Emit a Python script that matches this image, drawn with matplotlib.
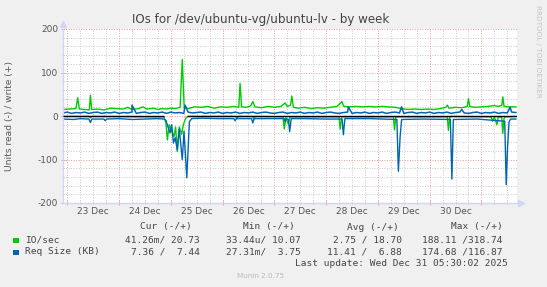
import matplotlib
matplotlib.use("Agg")
import matplotlib.pyplot as plt
import matplotlib.transforms as mtransforms
from matplotlib.patches import Rectangle
import numpy as np

# time axis in hours from 23 Dec 00:00
day_labels = ["23 Dec", "24 Dec", "25 Dec", "26 Dec", "27 Dec", "28 Dec", "29 Dec", "30 Dec"]

# IO/sec write (+)
io_w = [(-1.5, 15), (1, 16), (4, 17), (4.8, 42), (5.6, 16), (8, 15), (10.2, 14), (10.7, 48), (11.3, 15),
        (14, 16), (17, 14), (20, 18), (23, 17), (26, 16), (28, 20), (30, 15), (33, 17), (35, 21), (37, 16),
        (40, 18), (42, 15), (44, 17), (46, 16), (48, 18), (50, 17), (52.3, 20), (53.3, 130), (54.2, 18),
        (56, 17), (59, 21), (62, 20), (65, 22), (68, 18), (71, 21), (74, 20), (77, 22), (79.5, 20), (80.1, 75),
        (80.8, 21), (83, 20), (85, 23), (86, 33), (87, 21), (90, 19), (93, 22), (96, 20), (99, 22), (101, 30),
        (102, 22), (103.5, 25), (104.1, 46), (104.8, 20), (107, 18), (110, 20), (113, 17), (116, 19), (119, 18),
        (122, 20), (125, 22), (127.3, 33), (128.2, 22), (131, 21), (134, 22), (137, 21), (140, 22), (143, 21),
        (146, 22), (149, 21), (152, 20), (155, 17), (158, 15), (161, 16), (164, 15), (167, 16), (170, 15),
        (173, 17), (175.5, 20), (176.2, 25), (177, 18), (180, 20), (183, 19), (185.4, 22), (186, 40),
        (186.6, 22), (189, 20), (192, 21), (195, 22), (198, 24), (200, 22), (201.5, 25), (201.9, 44),
        (202.5, 22), (205, 21), (208, 21)]

# IO/sec read (-)
io_r = [(-2, -1), (10, -1), (10.7, -4), (11.4, -1), (44.8, -2), (45.7, -15), (46.4, -55), (47.2, -20),
        (48.4, -35), (49.5, -47), (50.2, -25), (51.0, -82), (51.9, -25), (53.0, -42), (53.8, -20), (55.0, -4),
        (56, -1), (78, -1), (78.6, -6), (79.2, -1), (86, -1), (86.5, -8), (87, -1), (100.0, -2), (100.6, -30),
        (101.3, -4), (102.5, -18), (103.2, -2), (126.0, -2), (126.5, -30), (127.2, -2), (151.2, -2),
        (151.7, -32), (152.3, -2), (176.2, -2), (176.7, -33), (177.3, -4), (178, -1), (196.5, -2),
        (197.2, -12), (198, -2), (199.2, -20), (199.8, -2), (201.4, -3), (201.9, -40), (202.5, -5),
        (203, -2), (208, -1)]

# Req Size write (+), 2-hourly samples from -2 h plus short peaks
rq_w_base = [
    7, 9, 6, 8, 7, 9, 6, 8, 9, 6, 8, 7, 9, 6, 8, 7, 9, 6, 8, 9,
    6, 8, 7, 9, 6, 9, 7, 8, 6, 9, 7, 8, 9, 6, 8, 7, 9, 6, 8, 7,
    9, 6, 8, 7, 9, 6, 8, 9, 7, 6, 8, 9, 6, 8, 7, 9, 6, 8, 7, 9,
    6, 8, 9, 7, 6, 8, 9, 6, 8, 7, 9, 6, 8, 7, 9, 6, 8, 9, 7, 6,
    8, 9, 6, 8, 7, 9, 6, 8, 7, 9, 6, 8, 9, 7, 6, 8, 9, 6, 8, 7,
    9, 6, 8, 7, 9, 8,
]
rq_w_peaks = [(30.0, 25), (54.6, 25), (130.3, 21), (155.0, 21), (182.9, 15), (205.3, 20)]

# Req Size read (-)
rq_r = [(-2, -7), (3, -8), (6, -6), (10.0, -7), (10.7, -15), (11.4, -7), (17.0, -7), (17.6, -11), (18.2, -7),
        (24, -6), (30, -8), (36, -7), (42, -6), (44.8, -7), (45.7, -10), (47.6, -39), (48.4, -20), (49.2, -62),
        (50.0, -50), (51.0, -78), (51.9, -30), (53.3, -100), (54.1, -35), (55.4, -142), (56.6, -13),
        (57.7, -6), (62, -5), (70, -6), (77.2, -6), (77.8, -11), (78.4, -6), (85.4, -6), (86.0, -16),
        (86.6, -6), (95, -6), (100.5, -6), (101.0, -13), (101.6, -6), (102.5, -8), (103.1, -36), (103.8, -6),
        (110, -6), (120, -7), (127.4, -7), (128.0, -43), (128.7, -6), (140, -6), (152.8, -8), (153.5, -127),
        (154.3, -48), (155.0, -8), (165, -7), (177.6, -8), (178.3, -145), (179.0, -8), (190, -7),
        (202.8, -12), (203.5, -158), (204.1, -74), (204.8, -14), (205.5, -7), (208, -7)]

zero_gap = (44.8, 55.4)

legend_rows = [
    ("IO/sec", "#00CC00", ["41.26m/ 20.73", "33.44u/ 10.07", "2.75 / 18.70", "188.11 /318.74"]),
    ("Req Size (KB)", "#0066B3", ["7.36 /  7.44", "27.31m/  3.75", "11.41 /  6.88", "174.68 /116.87"]),
]
headers = ["Cur (-/+)", "Min (-/+)", "Avg (-/+)", "Max (-/+)"]

W, H = 547, 287
fig = plt.figure(figsize=(W / 100, H / 100), dpi=100, facecolor="#F0F0F0")
ax = fig.add_axes([63 / W, 1 - 203 / H, 454 / W, 174 / H])
ax.set_facecolor("white")
ax.set_xlim(-2, 208.5)
ax.set_ylim(-200, 200)

dot = (0, (1, 1.6))
for v in range(-180, 200, 20):
    if v % 100:
        ax.axhline(v, color="#c8c8c8", lw=0.7, ls=dot, zorder=0)
for h in range(-0, 209, 6):
    if h % 24:
        ax.axvline(h, color="#c8c8c8", lw=0.7, ls=dot, zorder=0)
for v in (-100, 0, 100, 200):
    ax.axhline(v, color="#e89a9a", lw=0.7, ls=dot, zorder=0.5)
for h in range(0, 209, 24):
    ax.axvline(h, color="#e89a9a", lw=0.7, ls=dot, zorder=0.5)


def xy(pts):
    a = np.array(pts, dtype=float)
    return a[:, 0], a[:, 1]


t, v = xy(io_r)
ax.plot(t, v, color="#00CC00", lw=1.0, zorder=2)
t, v = xy(io_w)
ax.plot(t, v, color="#00CC00", lw=1.0, zorder=2)

t, v = xy(rq_r)
ax.plot(t, v, color="#0066B3", lw=1.0, zorder=2.5)
base_t = -2 + 2 * np.arange(len(rq_w_base))
pts = sorted(list(zip(base_t, rq_w_base)) + rq_w_peaks)
t, v = xy(pts)
ax.plot(t, v, color="#0066B3", lw=1.1, zorder=2.5)

ax.plot([-2, zero_gap[0]], [0, 0], color="black", lw=1.0, zorder=3, solid_capstyle="butt")
ax.plot([zero_gap[1], 208.5], [0, 0], color="black", lw=1.0, zorder=3, solid_capstyle="butt")

for s in ("top", "right"):
    ax.spines[s].set_visible(False)
for s in ("left", "bottom"):
    ax.spines[s].set_color("#CFD6F8")
    ax.spines[s].set_linewidth(1.0)
ax.plot([0], [1.03], marker="^", ms=4, color="#CFD6F8", transform=ax.transAxes, clip_on=False)
ax.plot([1.008], [0], marker=">", ms=4, color="#CFD6F8", transform=ax.transAxes, clip_on=False)

ax.set_yticks([-200, -100, 0, 100, 200])
ax.set_yticklabels(["-200", "-100", "0", "100", "200"])
ax.set_yticks(range(-180, 200, 20), minor=True)
ax.tick_params(axis="y", which="major", colors="#e89a9a", length=3, direction="inout", width=0.7,
               labelsize=6.5, labelcolor="#555555", pad=2)
ax.tick_params(axis="y", which="minor", colors="#c0c0c0", length=2, direction="inout", width=0.7)
ax.set_xticks(range(0, 209, 24))
ax.set_xticklabels([])
ax.set_xticks(range(6, 209, 6), minor=True)
ax.tick_params(axis="x", which="major", colors="#e89a9a", length=3, direction="inout", width=0.7)
ax.tick_params(axis="x", which="minor", colors="#c0c0c0", length=2, direction="inout", width=0.7)

trans = mtransforms.blended_transform_factory(ax.transData, fig.transFigure)
for i, lab in enumerate(day_labels):
    ax.text(12 + 24 * i, 1 - 212 / H, lab, transform=trans, ha="center", va="center",
            fontsize=6.5, color="#555555")

fig.text(261 / W, 1 - 19 / H, "IOs for /dev/ubuntu-vg/ubuntu-lv - by week", ha="center", va="center",
         fontsize=8.6, color="#444444")
fig.text(10 / W, 1 - 116 / H, "Units read (-) / write (+)", rotation=90, ha="center", va="center",
         fontsize=6.6, color="#555555")
fig.text(538 / W, 1 - 5 / H, "RRDTOOL / TOBI OETIKER", rotation=270, ha="center", va="top",
         fontsize=5.2, color="#c4c4c4")

mono = "DejaVu Sans Mono"
head_x = [192, 295, 399, 503]
col_x = [200, 301, 402, 503]
for x, hd in zip(head_x, headers):
    fig.text(x / W, 1 - 227 / H, hd, ha="right", va="center", family=mono, fontsize=6.8, color="#444444")
for r, (name, col, vals) in enumerate(legend_rows):
    yc = 240 + 12 * r
    fig.patches.append(Rectangle((13 / W, 1 - (yc + 3) / H), 5.5 / W, 5.5 / H, transform=fig.transFigure,
                                 facecolor=col, edgecolor="none"))
    fig.text(25 / W, 1 - yc / H, name, ha="left", va="center", family=mono, fontsize=6.8, color="#444444")
    for x, val in zip(col_x, vals):
        fig.text(x / W, 1 - yc / H, val, ha="right", va="center", family=mono, fontsize=6.8, color="#444444")

fig.text(508 / W, 1 - 263 / H, "Last update: Wed Dec 31 05:30:02 2025", ha="right", va="center",
         family=mono, fontsize=6.8, color="#444444")
fig.text(261 / W, 1 - 276 / H, "Munin 2.0.75", ha="center", va="center", fontsize=5.2, color="#bbbbbb")

fig.savefig("out.png", dpi=100, facecolor=fig.get_facecolor())
